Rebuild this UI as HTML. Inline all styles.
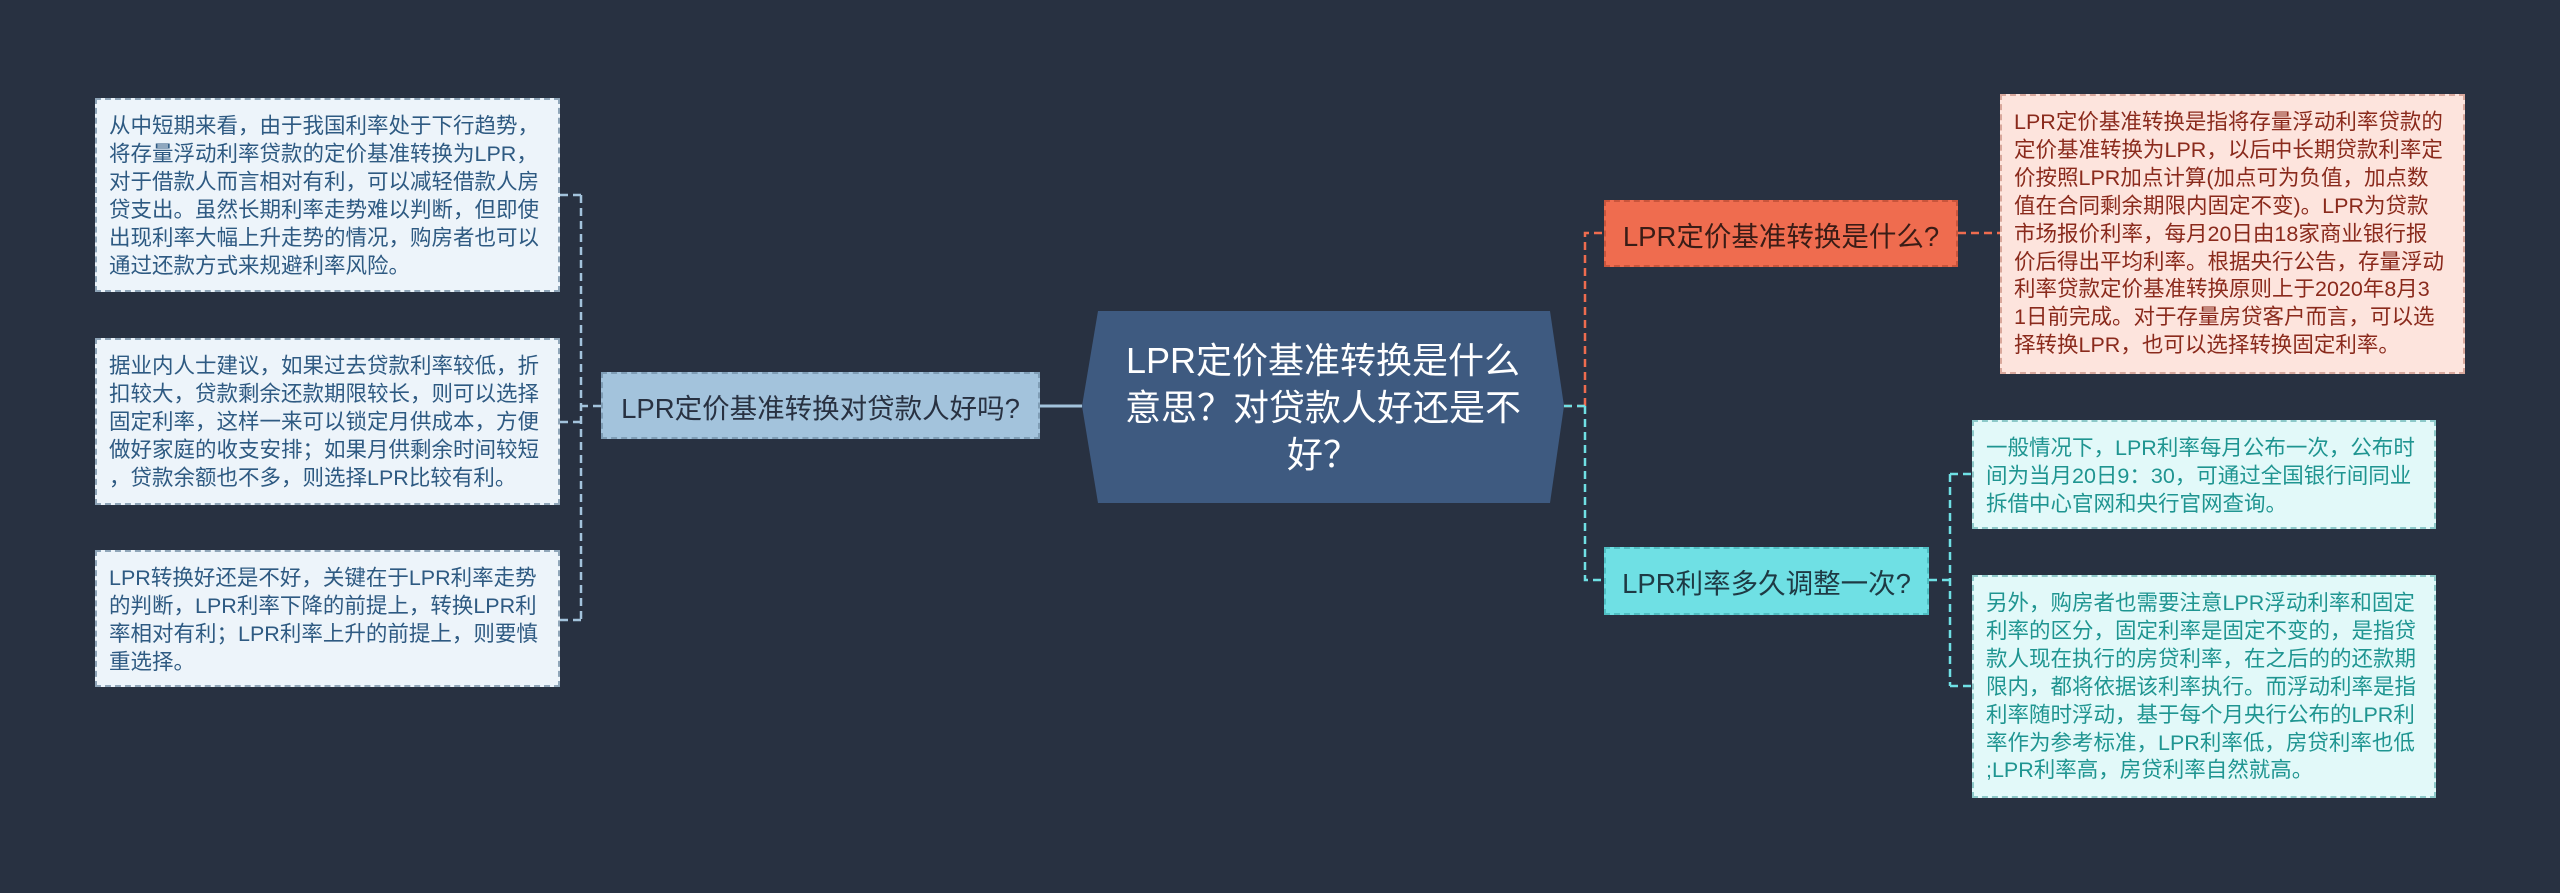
<!DOCTYPE html>
<html><head><meta charset="utf-8"><style>
html,body{margin:0;padding:0;}
body{width:2560px;height:893px;background:#283141;position:relative;overflow:hidden;font-family:"Liberation Sans","Noto Sans CJK SC",sans-serif;}
.b{position:absolute;box-sizing:border-box;white-space:nowrap;}
.leaf{font-size:21.5px;line-height:27.9px;padding:13px 12px;}
.lb{background:#edf4fa;border:2px dashed #8fa5b8;color:#2e5a82;}
.pk{background:#fde4dd;border:2px dashed #d9a89c;color:#8a2a1c;}
.cy{background:#e2f9f9;border:2px dashed #8cc9c9;color:#1f9591;}
.node{font-size:27.5px;display:flex;align-items:center;justify-content:center;}
</style></head><body>
<svg width="2560" height="893" style="position:absolute;left:0;top:0">
<g fill="none" stroke-width="2.5" stroke-dasharray="8,5">
<path d="M1082 406 H1040" stroke="#a3c3dc" stroke-dasharray="none" stroke-width="3"/>
<path d="M601 406 H581 M581 195 V620 M581 195 H560 M581 422 H560 M581 620 H560" stroke="#a3c3dc"/>
<path d="M1564 406 H1585 M1585 406 V233 H1604 M1958 233 H2000" stroke="#ef6c4f"/>
<path d="M1564 406 H1585 M1585 406 V580 H1604 M1929 580 H1950 M1950 474 V686 M1950 474 H1972 M1950 686 H1972" stroke="#6fe0e4"/>
</g>
<polygon points="1098,311 1550,311 1564,406 1550,503 1098,503 1082,406" fill="#3e5a80"/>
</svg>
<div class="b" style="left:1082px;top:311px;width:482px;height:192px;display:flex;align-items:center;justify-content:center;text-align:center;color:#fff;font-size:36px;line-height:47px;">LPR定价基准转换是什么<br>意思？对贷款人好还是不<br>好？</div>

<div class="b node" style="left:601px;top:372px;width:439px;height:67px;background:#a3c3dc;border:2px dashed #7f9db5;color:#283141;">LPR定价基准转换对贷款人好吗?</div>
<div class="b node" style="left:1604px;top:200px;width:354px;height:67px;background:#ef6c4f;border:2px dashed #c9553c;color:#3a1c16;">LPR定价基准转换是什么?</div>
<div class="b node" style="left:1604px;top:547px;width:325px;height:68px;background:#6fe0e4;border:2px dashed #4fbfc3;color:#1e3a44;">LPR利率多久调整一次?</div>

<div class="b leaf lb" style="left:95px;top:98px;width:465px;height:194px;">从中短期来看，由于我国利率处于下行趋势，<br>将存量浮动利率贷款的定价基准转换为LPR，<br>对于借款人而言相对有利，可以减轻借款人房<br>贷支出。虽然长期利率走势难以判断，但即使<br>出现利率大幅上升走势的情况，购房者也可以<br>通过还款方式来规避利率风险。</div>
<div class="b leaf lb" style="left:95px;top:338px;width:465px;height:167px;">据业内人士建议，如果过去贷款利率较低，折<br>扣较大，贷款剩余还款期限较长，则可以选择<br>固定利率，这样一来可以锁定月供成本，方便<br>做好家庭的收支安排；如果月供剩余时间较短<br>，贷款余额也不多，则选择LPR比较有利。</div>
<div class="b leaf lb" style="left:95px;top:550px;width:465px;height:137px;">LPR转换好还是不好，关键在于LPR利率走势<br>的判断，LPR利率下降的前提上，转换LPR利<br>率相对有利；LPR利率上升的前提上，则要慎<br>重选择。</div>

<div class="b leaf pk" style="left:2000px;top:94px;width:465px;height:280px;">LPR定价基准转换是指将存量浮动利率贷款的<br>定价基准转换为LPR，以后中长期贷款利率定<br>价按照LPR加点计算(加点可为负值，加点数<br>值在合同剩余期限内固定不变)。LPR为贷款<br>市场报价利率，每月20日由18家商业银行报<br>价后得出平均利率。根据央行公告，存量浮动<br>利率贷款定价基准转换原则上于2020年8月3<br>1日前完成。对于存量房贷客户而言，可以选<br>择转换LPR，也可以选择转换固定利率。</div>

<div class="b leaf cy" style="left:1972px;top:420px;width:464px;height:109px;">一般情况下，LPR利率每月公布一次，公布时<br>间为当月20日9：30，可通过全国银行间同业<br>拆借中心官网和央行官网查询。</div>
<div class="b leaf cy" style="left:1972px;top:575px;width:464px;height:223px;">另外，购房者也需要注意LPR浮动利率和固定<br>利率的区分，固定利率是固定不变的，是指贷<br>款人现在执行的房贷利率，在之后的的还款期<br>限内，都将依据该利率执行。而浮动利率是指<br>利率随时浮动，基于每个月央行公布的LPR利<br>率作为参考标准，LPR利率低，房贷利率也低<br>;LPR利率高，房贷利率自然就高。</div>
</body></html>
